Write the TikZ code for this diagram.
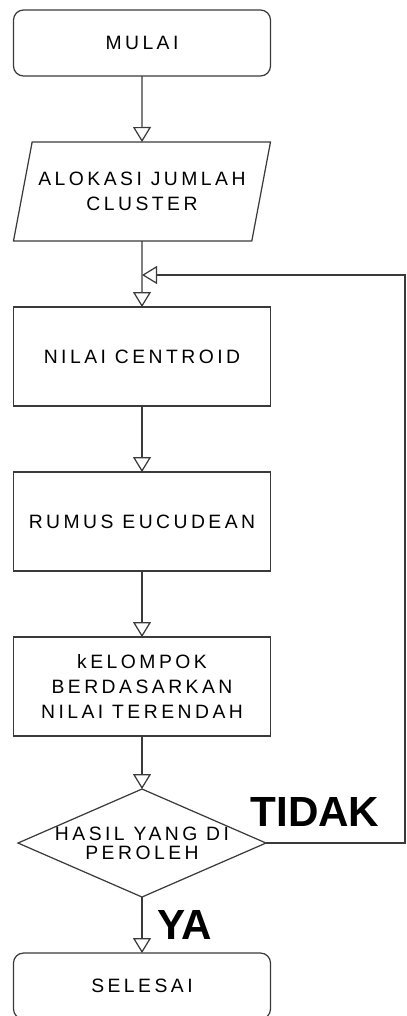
\documentclass[tikz,border=0pt]{standalone}
\usepackage{fontspec}
\setmainfont{Liberation Sans}
\usetikzlibrary{positioning,shapes.geometric,arrows.meta}
\definecolor{garis}{HTML}{3A3A3A}

\begin{document}
\begin{tikzpicture}[auto, node distance=1.32cm, line width=0.7pt,
	box text/.style={font=\fontsize{11}{14}\selectfont\addfontfeature{LetterSpace=18}, align=center, inner sep=0pt, outer sep=0pt},
	start node/.style={box text, draw=garis, rounded corners=0.2cm, minimum width=5.14cm, minimum height=1.32cm},
	io node/.style={box text, draw=garis, trapezium, trapezium left angle=64, trapezium right angle=116, trapezium stretches body, minimum width=5.14cm, minimum height=1.98cm},
	process node/.style={box text, draw=garis, rectangle, minimum width=5.14cm, minimum height=1.98cm},
	decision node/.style={box text, draw=garis, diamond, aspect=2.3, inner xsep=-0.25cm, inner ysep=-0.05cm, minimum width=4.96cm, minimum height=2.16cm},
	label node/.style={font=\fontsize{24}{28}\selectfont\bfseries, inner sep=0pt},
	flow/.style={draw=garis, -{Triangle[open, length=0.3cm, width=0.36cm]}}]
	
	\useasboundingbox (0,0) rectangle (8.14,-20.32);
	
	\node[start node] (mulai) at (2.84,-0.86) {MULAI};
	\node[io node] (alokasi) [below=of mulai] {ALOKASI JUMLAH\\CLUSTER};
	\node[process node] (centroid) [below=of alokasi] {NILAI CENTROID};
	\node[process node] (rumus) [below=of centroid] {RUMUS EUCUDEAN};
	\node[process node] (kelompok) [below=of rumus] {kELOMPOK\\BERDASARKAN\\NILAI TERENDAH};
	\node[decision node] (hasil) [below=1.06cm of kelompok] {HASIL YANG DI\\[-3pt]PEROLEH};
	\node[start node] (selesai) [below=1.12cm of hasil] {SELESAI};
	
	\coordinate (balik) at (8.1,-5.5);
	\coordinate (gabung) at (alokasi.south |- balik);
	
	\node[label node] (tidak) at (6.3,-16.24) {TIDAK};
	\node[label node] (ya) at (3.7,-18.5) {YA};
	
	\path[flow]
	(mulai) edge (alokasi)
	(alokasi) edge (centroid)
	(centroid) edge (rumus)
	(rumus) edge (kelompok)
	(kelompok) edge (hasil)
	(hasil) edge (selesai);
	\draw[flow] (hasil.east) -| (balik) -- (gabung);
\end{tikzpicture}
\end{document}
